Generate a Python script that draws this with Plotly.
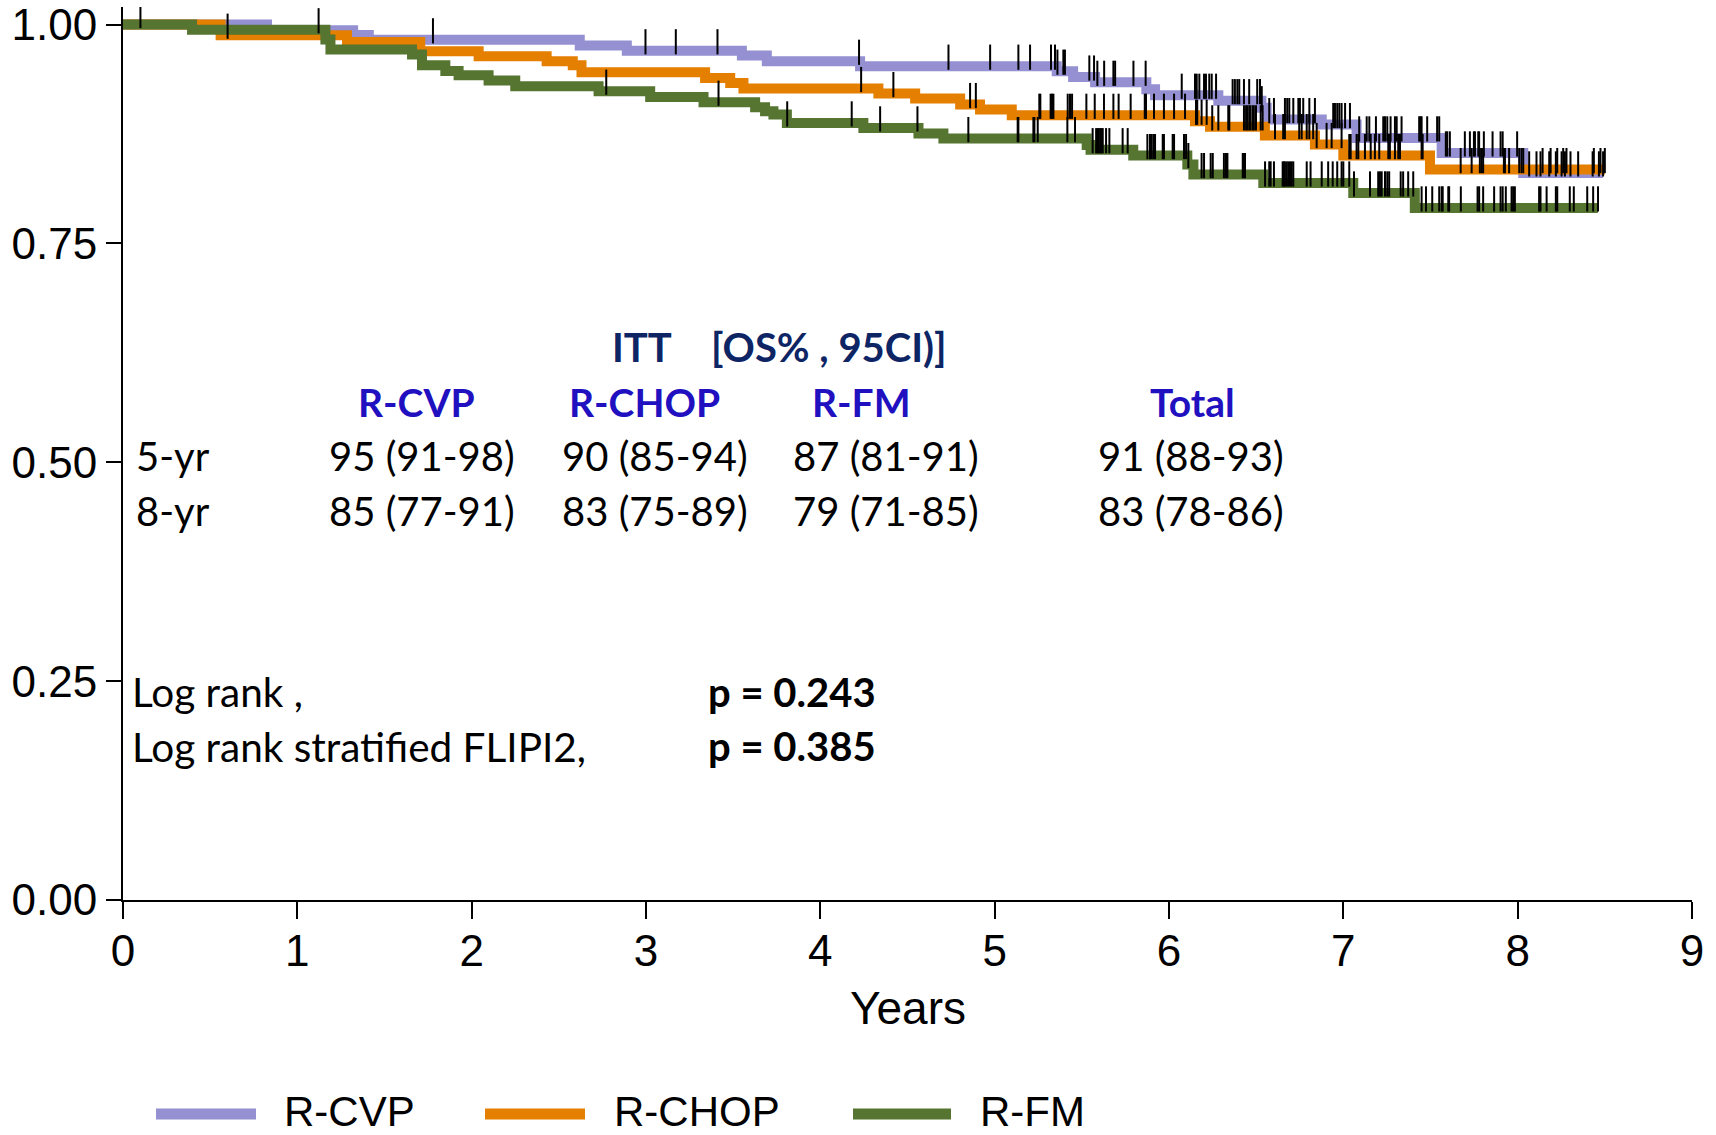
import numpy as np
import plotly.graph_objects as go

# ---------------- data ----------------
arms = ["R-CVP", "R-CHOP", "R-FM"]

cvp_t = [0, 0.826, 1.32, 1.41, 2.62, 2.89, 3.55, 3.693, 4.228, 5.356, 5.45, 5.576, 5.87, 5.92,
         6.283, 6.53, 6.56, 6.876, 7.076, 7.564, 8.032, 8.49]
cvp_s = [1.0, 0.9935, 0.988, 0.9825, 0.976, 0.970, 0.9646, 0.958, 0.9524, 0.9467, 0.940, 0.934, 0.926, 0.9192,
         0.913, 0.905, 0.8914, 0.8857, 0.8705, 0.8533, 0.8305, 0.8305]

chop_t = [0, 0.56, 1.285, 1.705, 2.04, 2.43, 2.58, 2.63, 3.339, 3.483, 3.559, 4.333, 4.544, 4.802, 4.916,
          5.098, 6.149, 6.235, 6.55, 6.837, 7.0, 7.497, 8.5]
chop_s = [1.0, 0.9878, 0.980, 0.9695, 0.9638, 0.958, 0.9535, 0.9455, 0.939, 0.9333, 0.9269, 0.9211, 0.9154,
          0.9086, 0.9029, 0.8963, 0.8895, 0.8831, 0.8731, 0.8629, 0.8503, 0.8343, 0.8343]

fm_t = [0, 0.396, 1.161, 1.19, 1.658, 1.715, 1.849, 1.925, 2.097, 2.25, 2.728, 3.024, 3.33, 3.626, 3.683,
        3.731, 3.808, 4.247, 4.563, 4.706, 5.528, 5.55, 5.795, 6.105, 6.14, 6.541, 7.057, 7.41, 8.46]
fm_s = [1.0, 0.994, 0.983, 0.9714, 0.9657, 0.9535, 0.947, 0.942, 0.936, 0.9295, 0.9238, 0.9173, 0.9112,
        0.9055, 0.901, 0.8971, 0.8876, 0.8819, 0.8754, 0.8697, 0.8625, 0.857, 0.8503, 0.840, 0.8286, 0.819,
        0.8076, 0.7905, 0.7905]

cvp_cens = [0.10, 1.778, 2.997, 3.171, 3.410, 4.222, 4.735, 4.974, 5.136, 5.203, 5.323, 5.346, 5.36, 5.394,
            5.403, 5.543, 5.57, 5.589, 5.628, 5.681, 5.691, 5.796, 5.866, 6.073, 6.149, 6.159, 6.174, 6.201,
            6.212, 6.231, 6.245, 6.27, 6.365, 6.378, 6.392, 6.403, 6.43, 6.46, 6.506, 6.522, 6.532, 6.575,
            6.602, 6.665, 6.678, 6.69, 6.713, 6.742, 6.751, 6.77, 6.805, 6.837, 6.942, 6.952, 6.965, 6.977,
            6.99, 7.01, 7.038, 7.091, 7.134, 7.149, 7.187, 7.229, 7.239, 7.252, 7.271, 7.296, 7.306, 7.334,
            7.435, 7.443, 7.449, 7.481, 7.538, 7.55, 7.588, 7.596, 7.611, 7.697, 7.726, 7.749, 7.755, 7.774,
            7.779, 7.806, 7.856, 7.902, 7.914, 7.997, 8.066, 8.108, 8.131, 8.181, 8.219, 8.252, 8.271, 8.303,
            8.347, 8.43, 8.466, 8.49]
chop_cens = [0.60, 4.234, 4.419, 4.859, 4.892, 5.256, 5.262, 5.321, 5.329, 5.337, 5.419, 5.432, 5.444, 5.526,
             5.574, 5.627, 5.681, 5.711, 5.78, 5.861, 5.868, 5.914, 5.971, 6.029, 6.092, 6.155, 6.162, 6.187,
             6.216, 6.248, 6.283, 6.34, 6.346, 6.43, 6.442, 6.449, 6.46, 6.468, 6.48, 6.487, 6.499, 6.526,
             6.537, 6.608, 6.655, 6.665, 6.747, 6.761, 6.79, 6.805, 6.827, 6.847, 6.904, 6.933, 6.99, 7.034,
             7.042, 7.076, 7.086, 7.124, 7.157, 7.181, 7.206, 7.258, 7.267, 7.296, 7.315, 7.325, 7.449, 7.455,
             7.673, 7.736, 7.783, 7.793, 7.802, 7.921, 7.927, 7.951, 8.009, 8.022, 8.032, 8.143, 8.189, 8.227,
             8.261, 8.28, 8.437, 8.475, 8.5]
fm_cens = [1.122, 2.772, 3.416, 3.81, 4.18, 4.343, 4.557, 4.849, 5.132, 5.136, 5.222, 5.228, 5.247, 5.417,
           5.461, 5.562, 5.582, 5.59, 5.597, 5.605, 5.612, 5.62, 5.639, 5.658, 5.734, 5.763, 5.876, 5.912,
           5.891, 5.901, 5.92, 5.964, 5.971, 6.021, 6.029, 6.086, 6.098, 6.111, 6.187, 6.201, 6.239, 6.251,
           6.315, 6.327, 6.335, 6.423, 6.43, 6.436, 6.551, 6.575, 6.583, 6.602, 6.652, 6.659, 6.665, 6.675,
           6.684, 6.694, 6.704, 6.713, 6.79, 6.812, 6.876, 6.913, 6.939, 6.965, 6.99, 7.0, 7.034, 7.061,
           7.153, 7.2, 7.21, 7.22, 7.239, 7.252, 7.263, 7.329, 7.343, 7.372, 7.401, 7.449, 7.474, 7.51, 7.55,
           7.564, 7.57, 7.602, 7.607, 7.674, 7.77, 7.779, 7.802, 7.865, 7.902, 7.914, 7.932, 7.965, 7.974,
           7.984, 8.123, 8.131, 8.166, 8.219, 8.227, 8.299, 8.322, 8.399, 8.433, 8.461]

x_ticks = list(range(0, 10))
y_ticks = [0, 0.25, 0.5, 0.75, 1.0]
y_ticktext = ["0.00", "0.25", "0.50", "0.75", "1.00"]

table_title_left = "ITT"
table_title_right = "[OS% , 95CI)]"
table_cols = ["R-CVP", "R-CHOP", "R-FM", "Total"]
table_rows = ["5-yr", "8-yr"]
table_vals = [["95 (91-98)", "90 (85-94)", "87 (81-91)", "91 (88-93)"],
              ["85 (77-91)", "83 (75-89)", "79 (71-85)", "83 (78-86)"]]
test_labels = ["Log rank ,", "Log rank stratified FLIPI2,"]
test_pvals = ["p = 0.243", "p = 0.385"]

# ---------------- style ----------------
colors = ["#9490D2", "#E57F00", "#557530"]
W, H = 1716, 1135
ML, MR, MT, MB = 123, 24, 7, 235
PW, PH = W - ML - MR, H - MT - MB
YMAX = 1.02
TICK_LEN_PX = 18
tick_off = (TICK_LEN_PX / 2) / PH * YMAX


def px_x(px):
    return (px - ML) / PW


def px_y(py):
    return (H - MB - py) / PH


def surv_at(times, surv, t):
    idx = np.searchsorted(np.asarray(times), t, side="right") - 1
    return np.asarray(surv)[idx]


fig = go.Figure()
series = [(cvp_t, cvp_s, cvp_cens), (chop_t, chop_s, chop_cens), (fm_t, fm_s, fm_cens)]
for (tt, ss, _), name, col in zip(series, arms, colors):
    fig.add_trace(go.Scatter(x=tt, y=ss, mode="lines", name=name,
                             line=dict(color=col, width=10, shape="hv"),
                             showlegend=False, hoverinfo="skip"))
for (tt, ss, cc), name in zip(series, arms):
    cy = surv_at(tt, ss, np.asarray(cc)) + tick_off
    fig.add_trace(go.Scatter(x=cc, y=cy, mode="markers", name=name + " censored",
                             marker=dict(symbol="line-ns", size=TICK_LEN_PX,
                                         line=dict(color="black", width=2)),
                             showlegend=False, hoverinfo="skip"))

ann = []
txt_font = "Lato"
navy = "#0E2565"
blue = "#2010C0"
# table title
ann.append(dict(text="<b>%s</b>" % table_title_left, x=px_x(611), y=px_y(347), xanchor="left",
                font=dict(family=txt_font, size=40, color=navy)))
ann.append(dict(text="<b>%s</b>" % table_title_right, x=px_x(710), y=px_y(347), xanchor="left",
                font=dict(family=txt_font, size=40, color=navy)))
col_x = [416, 644, 861, 1192]
val_x = [422, 655, 886, 1191]
for c, cx in zip(table_cols, col_x):
    ann.append(dict(text="<b>%s</b>" % c, x=px_x(cx), y=px_y(402), xanchor="center",
                    font=dict(family=txt_font, size=39, color=blue)))
row_y = [456, 511]
for r, ry, vals in zip(table_rows, row_y, table_vals):
    ann.append(dict(text=r, x=px_x(135), y=px_y(ry), xanchor="left",
                    font=dict(family=txt_font, size=40, color="black")))
    for v, vx in zip(vals, val_x):
        ann.append(dict(text=v, x=px_x(vx), y=px_y(ry), xanchor="center",
                        font=dict(family=txt_font, size=40, color="black")))
test_y = [692, 746]
for lab, p, ty in zip(test_labels, test_pvals, test_y):
    ann.append(dict(text=lab, x=px_x(131), y=px_y(ty), xanchor="left",
                    font=dict(family=txt_font, size=40.5, color="black")))
    ann.append(dict(text="<b>%s</b>" % p, x=px_x(707), y=px_y(ty), xanchor="left",
                    font=dict(family=txt_font, size=40, color="black")))

# x axis title
ann.append(dict(text="Years", x=0.5, y=px_y(1008), xanchor="center",
                font=dict(family="Liberation Sans", size=46, color="black")))

# legend (manual)
leg_line = [(156, 256), (485, 585), (853, 951)]
leg_text_x = [283, 613, 979]
shapes = []
for (x0, x1), tx, name, col in zip(leg_line, leg_text_x, arms, colors):
    shapes.append(dict(type="line", xref="paper", yref="paper", x0=px_x(x0), x1=px_x(x1),
                       y0=px_y(1114), y1=px_y(1114), line=dict(color=col, width=11)))
    ann.append(dict(text=name, x=px_x(tx), y=px_y(1111), xanchor="left",
                    font=dict(family="Liberation Sans", size=42, color="black")))

for a in ann:
    a.update(xref="paper", yref="paper", yanchor="middle", showarrow=False, borderpad=0)

fig.update_layout(
    width=W, height=H,
    margin=dict(l=ML, r=MR, t=MT, b=MB, autoexpand=False),
    paper_bgcolor="white", plot_bgcolor="white",
    annotations=ann, shapes=shapes,
    showlegend=False,
    font=dict(family="Liberation Sans", color="black"),
)
fig.update_xaxes(range=[0, 9], tickvals=x_ticks, showgrid=False, zeroline=False,
                 showline=True, linecolor="black", linewidth=2, automargin=False,
                 ticks="outside", ticklen=17, tickwidth=2, tickcolor="black",
                 tickfont=dict(family="Liberation Sans", size=44, color="black"))
fig.update_yaxes(range=[0, YMAX], tickvals=y_ticks, ticktext=y_ticktext, showgrid=False,
                 zeroline=False, showline=True, linecolor="black", linewidth=2, automargin=False,
                 ticks="outside", ticklen=15, tickwidth=2, tickcolor="black",
                 tickfont=dict(family="Liberation Sans", size=44, color="black"))
try:
    fig.update_yaxes(ticklabeloverflow="allow")
    fig.update_xaxes(ticklabeloverflow="allow")
except Exception:
    pass
try:
    fig.update_xaxes(ticklabelstandoff=-6)
except Exception:
    pass

fig.write_html("out.html")
